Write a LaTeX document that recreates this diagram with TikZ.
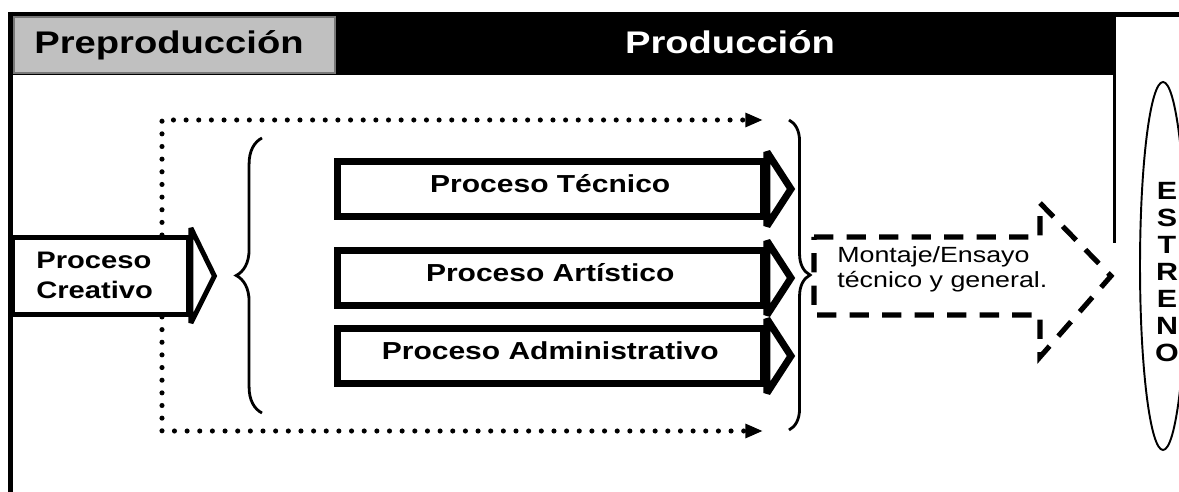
\documentclass[tikz,border=0pt]{standalone}
\usepackage{fontspec}
\setmainfont{Liberation Sans}[FakeStretch=1.22]
\usetikzlibrary{arrows.meta,decorations.pathreplacing,positioning}
\definecolor{pregray}{RGB}{192,192,192}
\definecolor{preline}{RGB}{120,120,120}

\tikzset{
  hdrtxt/.style={font=\bfseries\fontsize{17.8}{20}\selectfont, inner sep=0pt, anchor=base},
  procbox/.style={draw, fill=white, line width=4pt, minimum width=8.53cm, minimum height=1.1cm,
    inner sep=0pt, font=\bfseries\fontsize{14}{16}\selectfont, text height=10pt, text depth=5.5pt},
  proctip/.style={line width=4pt, fill=white, miter limit=2},
  dotline/.style={line width=2.9pt, line cap=round, dash pattern=on 0pt off 7.2pt,
    -{Triangle[length=10pt,width=7.6pt]}},
  curly/.style={line width=1.6pt, decorate, decoration={brace, amplitude=#1}},
  dashbox/.style={line width=2.9pt, dash pattern=on 11pt off 7.5pt},
}

\begin{document}
\begin{tikzpicture}[x=0.02cm, y=-0.02cm]
    \pgfmathsetmacro{\tipx}{24}
    \pgfmathsetmacro{\tipy}{6}
    \useasboundingbox (0,0) rectangle (1179,492);

    % header band
    \fill (8,12) rectangle (1179,17);
    \fill (8,12) rectangle (1116,75);
    \filldraw[fill=pregray, draw=preline, line width=0.6pt] (14,17) rectangle (335,73);
    \node[hdrtxt] (pre) at (169,54) {Preproducción};
    \node[hdrtxt, text=white] (prod) at (730,54) {Producción};
    \draw[line width=2.8pt] (10.5,12) -- (10.5,492);
    \draw[line width=1.9pt] (1114.5,17) -- (1114.5,243);

    % proceso creativo
    \node[draw, fill=white, line width=2.8pt, minimum width=3.51cm, minimum height=1.54cm] (creativo) at (100.75,276) {};
    \draw[line width=2.8pt, fill=white, miter limit=2] ([shift={(0,-7)}]creativo.north east) -- ([shift={(23.5,0)}]creativo.east)
      -- ([shift={(0,6)}]creativo.south east) -- cycle;
    \node[anchor=west, align=left, inner sep=0pt, font=\bfseries\fontsize{13.6}{17}\selectfont] (creatxt) at (36,275) {Proceso\\Creativo};

    % dotted paths
    \coordinate (dv) at (162,0);
    \coordinate (dtop) at (763,120);
    \coordinate (dbot) at (763,431);
    \draw[dotline] (creativo.north -| dv) |- (dtop);
    \draw[dotline] (creativo.south -| dv) |- (dbot);

    % braces
    \draw[curly=14.7pt] (262,413) -- (262,138);
    \draw[curly=12pt] (789,120) -- (789,430);

    % the three processes
    \node[procbox] (tecnico) at (550.25,189) {Proceso Técnico};
    \node[procbox] (artistico) at (550.25,278) {Proceso Artístico};
    \node[procbox] (admin) at (550.25,356) {Proceso Administrativo};
    \foreach \n in {tecnico,artistico,admin}
      \draw[proctip] ([shift={(0,-\tipy)}]\n.north east) -- ([shift={(\tipx,0)}]\n.east)
        -- ([shift={(0,\tipy)}]\n.south east) -- cycle;

    % montaje
    \node[anchor=west, align=left, inner sep=0pt, font=\fontsize{12.5}{14.2}\selectfont] (montaje) at (837,269)
      {Montaje/Ensayo\\técnico y general.};
    \draw[dashbox] (814,237) -- (1040,237) -- (1040,203) -- (1111,276) -- (1040,357) -- (1040,315) -- (814,315) -- cycle;

    % estreno
    \draw[line width=1.1pt] (1163,266) ellipse [x radius=23, y radius=184];
    \node[align=center, inner sep=0pt, font=\bfseries\fontsize{14.2}{15.35}\selectfont] (estreno) at (1167,272)
      {E\\S\\T\\R\\E\\N\\O};
\end{tikzpicture}
\end{document}
